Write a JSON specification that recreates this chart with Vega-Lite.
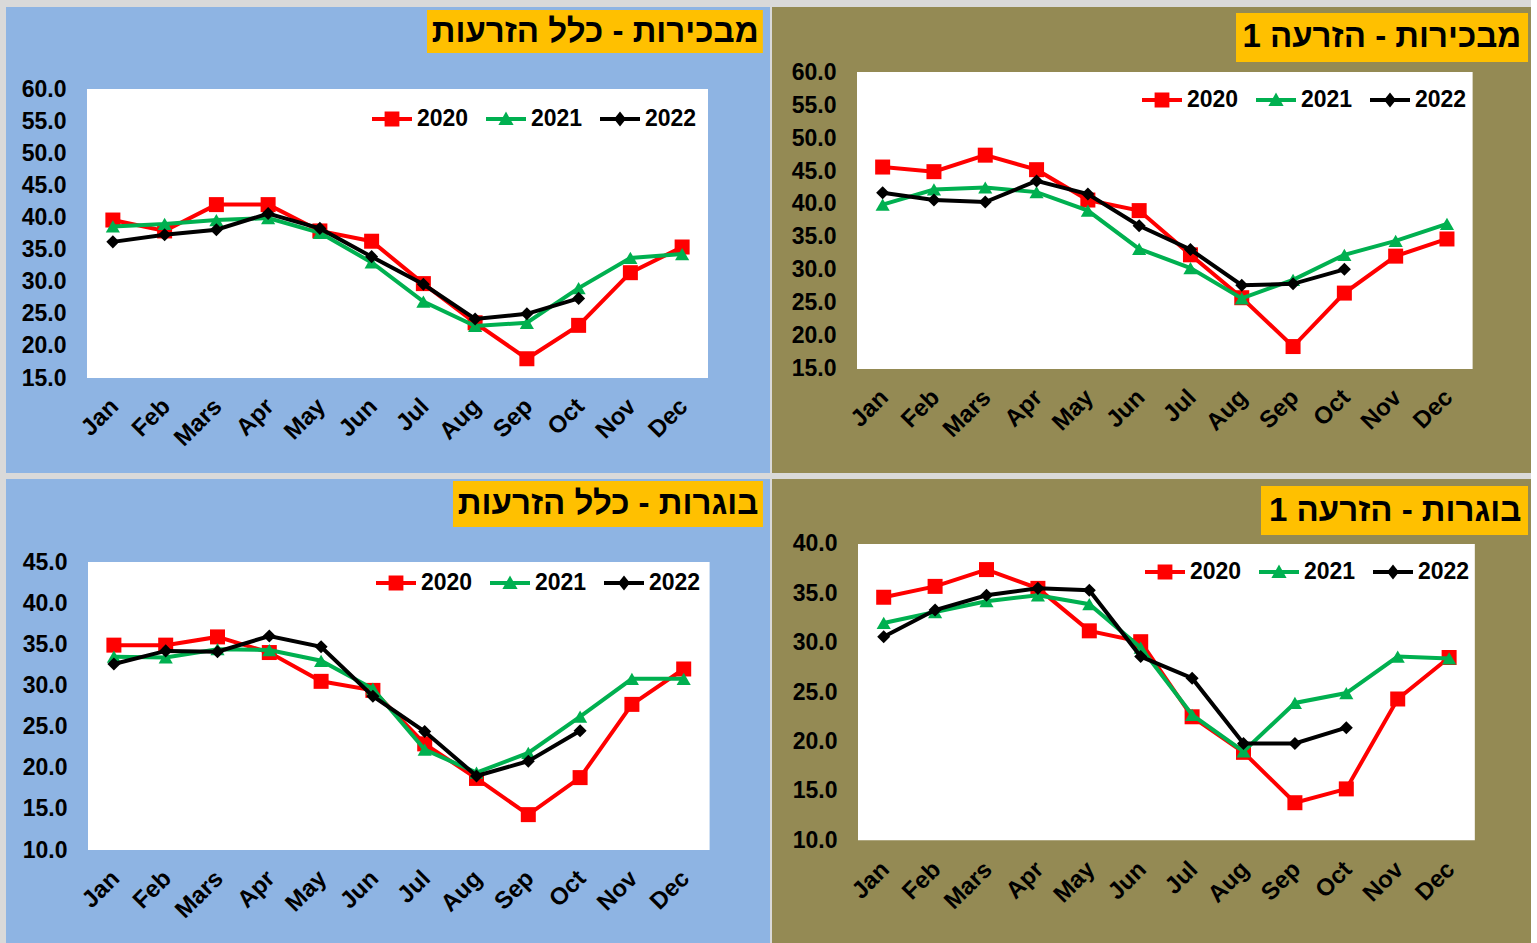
{
  "$schema": "https://vega.github.io/schema/vega-lite/v6.json",
  "background": "#D9D9D9",
  "padding": {"left": 6, "top": 7, "right": 0, "bottom": 0},
  "spacing": 6,
  "resolve": {"scale": {"fill": "independent", "shape": "independent"}, "legend": {"fill": "independent", "shape": "independent"}},
  "config": {
    "view": {"stroke": null},
    "font": "Liberation Sans",
    "axis": {"labelFont": "Liberation Sans", "labelFontWeight": "bold", "labelFontSize": 23, "labelColor": "#000000", "domain": false, "ticks": false, "grid": false, "labelOverlap": false, "labelFlush": false},
    "axisX": {"labelFontSize": 24, "labelOffset": -7},
    "legend": {"orient": "none", "direction": "horizontal", "columns": 3, "symbolSize": 1600, "labelFont": "Liberation Sans", "labelFontWeight": "bold", "labelFontSize": 23, "labelColor": "#000000", "labelOffset": 5, "columnPadding": 17, "padding": 0, "symbolStrokeWidth": 0, "symbolOpacity": 1, "labelLimit": 0}
  },
  "datasets": {
    "p1": [
      {"m":1,"year":"2020","v":39.6},{"m":2,"year":"2020","v":37.9},{"m":3,"year":"2020","v":42.0},{"m":4,"year":"2020","v":42.0},{"m":5,"year":"2020","v":37.9},{"m":6,"year":"2020","v":36.3},{"m":7,"year":"2020","v":29.7},{"m":8,"year":"2020","v":23.6},{"m":9,"year":"2020","v":18.0},{"m":10,"year":"2020","v":23.2},{"m":11,"year":"2020","v":31.4},{"m":12,"year":"2020","v":35.4},
      {"m":1,"year":"2021","v":38.6},{"m":2,"year":"2021","v":39.0},{"m":3,"year":"2021","v":39.6},{"m":4,"year":"2021","v":39.9},{"m":5,"year":"2021","v":37.6},{"m":6,"year":"2021","v":33.0},{"m":7,"year":"2021","v":26.9},{"m":8,"year":"2021","v":23.1},{"m":9,"year":"2021","v":23.6},{"m":10,"year":"2021","v":29.0},{"m":11,"year":"2021","v":33.7},{"m":12,"year":"2021","v":34.3},
      {"m":1,"year":"2022","v":36.2},{"m":2,"year":"2022","v":37.3},{"m":3,"year":"2022","v":38.1},{"m":4,"year":"2022","v":40.6},{"m":5,"year":"2022","v":38.3},{"m":6,"year":"2022","v":33.9},{"m":7,"year":"2022","v":29.6},{"m":8,"year":"2022","v":24.2},{"m":9,"year":"2022","v":25.0},{"m":10,"year":"2022","v":27.4}
    ],
    "p2": [
      {"m":1,"year":"2020","v":45.6},{"m":2,"year":"2020","v":44.9},{"m":3,"year":"2020","v":47.4},{"m":4,"year":"2020","v":45.2},{"m":5,"year":"2020","v":40.6},{"m":6,"year":"2020","v":39.0},{"m":7,"year":"2020","v":32.3},{"m":8,"year":"2020","v":25.8},{"m":9,"year":"2020","v":18.4},{"m":10,"year":"2020","v":26.5},{"m":11,"year":"2020","v":32.1},{"m":12,"year":"2020","v":34.7},
      {"m":1,"year":"2021","v":39.9},{"m":2,"year":"2021","v":42.2},{"m":3,"year":"2021","v":42.5},{"m":4,"year":"2021","v":41.8},{"m":5,"year":"2021","v":39.0},{"m":6,"year":"2021","v":33.2},{"m":7,"year":"2021","v":30.3},{"m":8,"year":"2021","v":25.7},{"m":9,"year":"2021","v":28.5},{"m":10,"year":"2021","v":32.3},{"m":11,"year":"2021","v":34.4},{"m":12,"year":"2021","v":37.0},
      {"m":1,"year":"2022","v":41.7},{"m":2,"year":"2022","v":40.6},{"m":3,"year":"2022","v":40.3},{"m":4,"year":"2022","v":43.5},{"m":5,"year":"2022","v":41.5},{"m":6,"year":"2022","v":36.7},{"m":7,"year":"2022","v":33.1},{"m":8,"year":"2022","v":27.7},{"m":9,"year":"2022","v":27.9},{"m":10,"year":"2022","v":30.1}
    ],
    "p3": [
      {"m":1,"year":"2020","v":34.9},{"m":2,"year":"2020","v":34.9},{"m":3,"year":"2020","v":35.9},{"m":4,"year":"2020","v":34.0},{"m":5,"year":"2020","v":30.5},{"m":6,"year":"2020","v":29.4},{"m":7,"year":"2020","v":22.9},{"m":8,"year":"2020","v":18.7},{"m":9,"year":"2020","v":14.3},{"m":10,"year":"2020","v":18.8},{"m":11,"year":"2020","v":27.7},{"m":12,"year":"2020","v":32.0},
      {"m":1,"year":"2021","v":33.5},{"m":2,"year":"2021","v":33.4},{"m":3,"year":"2021","v":34.4},{"m":4,"year":"2021","v":34.3},{"m":5,"year":"2021","v":33.0},{"m":6,"year":"2021","v":29.6},{"m":7,"year":"2021","v":22.2},{"m":8,"year":"2021","v":19.4},{"m":9,"year":"2021","v":21.8},{"m":10,"year":"2021","v":26.2},{"m":11,"year":"2021","v":30.8},{"m":12,"year":"2021","v":30.8},
      {"m":1,"year":"2022","v":32.6},{"m":2,"year":"2022","v":34.2},{"m":3,"year":"2022","v":34.1},{"m":4,"year":"2022","v":36.0},{"m":5,"year":"2022","v":34.7},{"m":6,"year":"2022","v":28.7},{"m":7,"year":"2022","v":24.4},{"m":8,"year":"2022","v":19.0},{"m":9,"year":"2022","v":20.8},{"m":10,"year":"2022","v":24.5}
    ],
    "p4": [
      {"m":1,"year":"2020","v":34.6},{"m":2,"year":"2020","v":35.7},{"m":3,"year":"2020","v":37.4},{"m":4,"year":"2020","v":35.5},{"m":5,"year":"2020","v":31.2},{"m":6,"year":"2020","v":30.1},{"m":7,"year":"2020","v":22.5},{"m":8,"year":"2020","v":18.9},{"m":9,"year":"2020","v":13.8},{"m":10,"year":"2020","v":15.2},{"m":11,"year":"2020","v":24.3},{"m":12,"year":"2020","v":28.5},
      {"m":1,"year":"2021","v":32.0},{"m":2,"year":"2021","v":33.1},{"m":3,"year":"2021","v":34.2},{"m":4,"year":"2021","v":34.8},{"m":5,"year":"2021","v":33.9},{"m":6,"year":"2021","v":29.5},{"m":7,"year":"2021","v":22.7},{"m":8,"year":"2021","v":19.0},{"m":9,"year":"2021","v":23.9},{"m":10,"year":"2021","v":24.9},{"m":11,"year":"2021","v":28.6},{"m":12,"year":"2021","v":28.4},
      {"m":1,"year":"2022","v":30.6},{"m":2,"year":"2022","v":33.3},{"m":3,"year":"2022","v":34.8},{"m":4,"year":"2022","v":35.5},{"m":5,"year":"2022","v":35.3},{"m":6,"year":"2022","v":28.6},{"m":7,"year":"2022","v":26.4},{"m":8,"year":"2022","v":19.8},{"m":9,"year":"2022","v":19.8},{"m":10,"year":"2022","v":21.4}
    ]
  },
  "vconcat": [
    {
      "spacing": 2,
      "resolve": {"scale": {"fill": "independent", "shape": "independent"}, "legend": {"fill": "independent", "shape": "independent"}},
      "hconcat": [
        {
          "width": 764, "height": 466,
          "view": {"fill": "#8EB4E3", "stroke": null},
          "data": {"name": "p1"},
          "layer": [
            {"transform": [{"filter": "datum.m == 1 && datum.year == '2020'"}], "mark": {"type": "rect", "fill": "#FFFFFF"},
             "encoding": {"x": {"datum": 0.5, "type": "quantitative", "scale": {"domain": [-1.065, 13.698], "nice": false, "zero": false},
                  "axis": {"values": [1,2,3,4,5,6,7,8,9,10,11,12], "labelExpr": "['Jan','Feb','Mars','Apr','May','Jun','Jul','Aug','Sep','Oct','Nov','Dec'][datum.value-1]", "labelAngle": -45, "offset": -95, "labelPadding": 16, "title": null}},
                  "x2": {"datum": 12.5},
                  "y": {"datum": 15, "type": "quantitative", "scale": {"domain": [0.21, 72.77], "nice": false, "zero": false},
                  "axis": {"values": [15,20,25,30,35,40,45,50,55,60], "format": ".1f", "offset": -60, "labelPadding": 0, "title": null}},
                  "y2": {"datum": 60}}},
            {"transform": [{"filter": "datum.m == 1 && datum.year == '2020'"}], "mark": {"type": "rect", "fill": "#FFC000"},
             "encoding": {"x": {"datum": 7.07, "type": "quantitative"}, "x2": {"datum": 13.56}, "y": {"datum": 65.6, "type": "quantitative"}, "y2": {"datum": 72.3}}},
            {"transform": [{"filter": "datum.m == 1 && datum.year == '2020'"}], "mark": {"type": "text", "font": "Liberation Sans", "fontWeight": "bold", "fontSize": 33, "color": "#000000", "align": "center", "baseline": "middle", "text": "מבכירות - כלל הזרעות"},
             "encoding": {"x": {"datum": 10.32, "type": "quantitative"}, "y": {"datum": 68.95, "type": "quantitative"}}},
            {"transform": [{"filter": "datum.year == '2020'"}], "mark": {"type": "line", "color": "#FF0000", "strokeWidth": 4, "point": {"shape": "square", "size": 225, "filled": true, "color": "#FF0000", "opacity": 1}},
             "encoding": {"x": {"field": "m", "type": "quantitative"}, "y": {"field": "v", "type": "quantitative"}}},
            {"transform": [{"filter": "datum.year == '2021'"}], "mark": {"type": "line", "color": "#00B050", "strokeWidth": 4, "point": {"shape": "triangle-up", "size": 200, "filled": true, "color": "#00B050", "opacity": 1}},
             "encoding": {"x": {"field": "m", "type": "quantitative"}, "y": {"field": "v", "type": "quantitative"}}},
            {"transform": [{"filter": "datum.year == '2022'"}], "mark": {"type": "line", "color": "#000000", "strokeWidth": 4, "point": {"shape": "diamond", "size": 170, "filled": true, "color": "#000000", "opacity": 1}},
             "encoding": {"x": {"field": "m", "type": "quantitative"}, "y": {"field": "v", "type": "quantitative"}}},
            {"transform": [{"filter": "false"}], "mark": {"type": "point", "filled": true, "opacity": 1},
             "encoding": {
               "fill": {"field": "year", "type": "nominal", "title": null, "scale": {"domain": ["2020","2021","2022"], "range": ["#FF0000","#00B050","#000000"]}, "legend": {"legendX": 366, "legendY": 92}},
               "shape": {"field": "year", "type": "nominal", "title": null, "scale": {"domain": ["2020","2021","2022"], "range": ["M-1,-0.1H1V0.1H-1Z M-0.37,-0.37H0.37V0.37H-0.37Z", "M-1,-0.1H1V0.1H-1Z M0,-0.37L0.38,0.3H-0.38Z", "M-1,-0.1H1V0.1H-1Z M0,-0.37L0.3,0L0,0.37L-0.3,0Z"]}, "legend": {"legendX": 366, "legendY": 92}}
             }}
          ]
        },
        {
          "width": 759, "height": 466,
          "view": {"fill": "#948A54", "stroke": null},
          "data": {"name": "p2"},
          "layer": [
            {"transform": [{"filter": "datum.m == 1 && datum.year == '2020'"}], "mark": {"type": "rect", "fill": "#FFFFFF"},
             "encoding": {"x": {"datum": 0.5, "type": "quantitative", "scale": {"domain": [-1.157, 13.638], "nice": false, "zero": false},
                  "axis": {"values": [1,2,3,4,5,6,7,8,9,10,11,12], "labelExpr": "['Jan','Feb','Mars','Apr','May','Jun','Jul','Aug','Sep','Oct','Nov','Dec'][datum.value-1]", "labelAngle": -45, "offset": -104, "labelPadding": 16, "title": null}},
                  "x2": {"datum": 12.5},
                  "y": {"datum": 15, "type": "quantitative", "scale": {"domain": [-0.76, 69.85], "nice": false, "zero": false},
                  "axis": {"values": [15,20,25,30,35,40,45,50,55,60], "format": ".1f", "offset": -64, "labelPadding": 0, "title": null}},
                  "y2": {"datum": 60}}},
            {"transform": [{"filter": "datum.m == 1 && datum.year == '2020'"}], "mark": {"type": "rect", "fill": "#FFC000"},
             "encoding": {"x": {"datum": 7.888, "type": "quantitative"}, "x2": {"datum": 13.58}, "y": {"datum": 61.52, "type": "quantitative"}, "y2": {"datum": 68.94}}},
            {"transform": [{"filter": "datum.m == 1 && datum.year == '2020'"}], "mark": {"type": "text", "font": "Liberation Sans", "fontWeight": "bold", "fontSize": 33, "color": "#000000", "align": "center", "baseline": "middle", "text": "מבכירות - הזרעה 1"},
             "encoding": {"x": {"datum": 10.73, "type": "quantitative"}, "y": {"datum": 65.23, "type": "quantitative"}}},
            {"transform": [{"filter": "datum.year == '2020'"}], "mark": {"type": "line", "color": "#FF0000", "strokeWidth": 4, "point": {"shape": "square", "size": 225, "filled": true, "color": "#FF0000", "opacity": 1}},
             "encoding": {"x": {"field": "m", "type": "quantitative"}, "y": {"field": "v", "type": "quantitative"}}},
            {"transform": [{"filter": "datum.year == '2021'"}], "mark": {"type": "line", "color": "#00B050", "strokeWidth": 4, "point": {"shape": "triangle-up", "size": 200, "filled": true, "color": "#00B050", "opacity": 1}},
             "encoding": {"x": {"field": "m", "type": "quantitative"}, "y": {"field": "v", "type": "quantitative"}}},
            {"transform": [{"filter": "datum.year == '2022'"}], "mark": {"type": "line", "color": "#000000", "strokeWidth": 4, "point": {"shape": "diamond", "size": 170, "filled": true, "color": "#000000", "opacity": 1}},
             "encoding": {"x": {"field": "m", "type": "quantitative"}, "y": {"field": "v", "type": "quantitative"}}},
            {"transform": [{"filter": "false"}], "mark": {"type": "point", "filled": true, "opacity": 1},
             "encoding": {
               "fill": {"field": "year", "type": "nominal", "title": null, "scale": {"domain": ["2020","2021","2022"], "range": ["#FF0000","#00B050","#000000"]}, "legend": {"legendX": 370, "legendY": 73}},
               "shape": {"field": "year", "type": "nominal", "title": null, "scale": {"domain": ["2020","2021","2022"], "range": ["M-1,-0.1H1V0.1H-1Z M-0.37,-0.37H0.37V0.37H-0.37Z", "M-1,-0.1H1V0.1H-1Z M0,-0.37L0.38,0.3H-0.38Z", "M-1,-0.1H1V0.1H-1Z M0,-0.37L0.3,0L0,0.37L-0.3,0Z"]}, "legend": {"legendX": 370, "legendY": 73}}
             }}
          ]
        }
      ]
    },
    {
      "spacing": 2,
      "resolve": {"scale": {"fill": "independent", "shape": "independent"}, "legend": {"fill": "independent", "shape": "independent"}},
      "hconcat": [
        {
          "width": 764, "height": 464,
          "view": {"fill": "#8EB4E3", "stroke": null},
          "data": {"name": "p3"},
          "layer": [
            {"transform": [{"filter": "datum.m == 1 && datum.year == '2020'"}], "mark": {"type": "rect", "fill": "#FFFFFF"},
             "encoding": {"x": {"datum": 0.5, "type": "quantitative", "scale": {"domain": [-1.083, 13.666], "nice": false, "zero": false},
                  "axis": {"values": [1,2,3,4,5,6,7,8,9,10,11,12], "labelExpr": "['Jan','Feb','Mars','Apr','May','Jun','Jul','Aug','Sep','Oct','Nov','Dec'][datum.value-1]", "labelAngle": -45, "offset": -93, "labelPadding": 16, "title": null}},
                  "x2": {"datum": 12.5},
                  "y": {"datum": 10, "type": "quantitative", "scale": {"domain": [-1.3, 55.09], "nice": false, "zero": false},
                  "axis": {"values": [10,15,20,25,30,35,40,45], "format": ".1f", "offset": -61, "labelPadding": 0, "title": null}},
                  "y2": {"datum": 45}}},
            {"transform": [{"filter": "datum.m == 1 && datum.year == '2020'"}], "mark": {"type": "rect", "fill": "#FFC000"},
             "encoding": {"x": {"datum": 7.546, "type": "quantitative"}, "x2": {"datum": 13.53}, "y": {"datum": 49.25, "type": "quantitative"}, "y2": {"datum": 54.84}}},
            {"transform": [{"filter": "datum.m == 1 && datum.year == '2020'"}], "mark": {"type": "text", "font": "Liberation Sans", "fontWeight": "bold", "fontSize": 33, "color": "#000000", "align": "center", "baseline": "middle", "text": "בוגרות - כלל הזרעות"},
             "encoding": {"x": {"datum": 10.54, "type": "quantitative"}, "y": {"datum": 52.05, "type": "quantitative"}}},
            {"transform": [{"filter": "datum.year == '2020'"}], "mark": {"type": "line", "color": "#FF0000", "strokeWidth": 4, "point": {"shape": "square", "size": 225, "filled": true, "color": "#FF0000", "opacity": 1}},
             "encoding": {"x": {"field": "m", "type": "quantitative"}, "y": {"field": "v", "type": "quantitative"}}},
            {"transform": [{"filter": "datum.year == '2021'"}], "mark": {"type": "line", "color": "#00B050", "strokeWidth": 4, "point": {"shape": "triangle-up", "size": 200, "filled": true, "color": "#00B050", "opacity": 1}},
             "encoding": {"x": {"field": "m", "type": "quantitative"}, "y": {"field": "v", "type": "quantitative"}}},
            {"transform": [{"filter": "datum.year == '2022'"}], "mark": {"type": "line", "color": "#000000", "strokeWidth": 4, "point": {"shape": "diamond", "size": 170, "filled": true, "color": "#000000", "opacity": 1}},
             "encoding": {"x": {"field": "m", "type": "quantitative"}, "y": {"field": "v", "type": "quantitative"}}},
            {"transform": [{"filter": "false"}], "mark": {"type": "point", "filled": true, "opacity": 1},
             "encoding": {
               "fill": {"field": "year", "type": "nominal", "title": null, "scale": {"domain": ["2020","2021","2022"], "range": ["#FF0000","#00B050","#000000"]}, "legend": {"legendX": 370, "legendY": 84}},
               "shape": {"field": "year", "type": "nominal", "title": null, "scale": {"domain": ["2020","2021","2022"], "range": ["M-1,-0.1H1V0.1H-1Z M-0.37,-0.37H0.37V0.37H-0.37Z", "M-1,-0.1H1V0.1H-1Z M0,-0.37L0.38,0.3H-0.38Z", "M-1,-0.1H1V0.1H-1Z M0,-0.37L0.3,0L0,0.37L-0.3,0Z"]}, "legend": {"legendX": 370, "legendY": 84}}
             }}
          ]
        },
        {
          "width": 759, "height": 464,
          "view": {"fill": "#948A54", "stroke": null},
          "data": {"name": "p4"},
          "layer": [
            {"transform": [{"filter": "datum.m == 1 && datum.year == '2020'"}], "mark": {"type": "rect", "fill": "#FFFFFF"},
             "encoding": {"x": {"datum": 0.5, "type": "quantitative", "scale": {"domain": [-1.173, 13.593], "nice": false, "zero": false},
                  "axis": {"values": [1,2,3,4,5,6,7,8,9,10,11,12], "labelExpr": "['Jan','Feb','Mars','Apr','May','Jun','Jul','Aug','Sep','Oct','Nov','Dec'][datum.value-1]", "labelAngle": -45, "offset": -102, "labelPadding": 16, "title": null}},
                  "x2": {"datum": 12.5},
                  "y": {"datum": 10, "type": "quantitative", "scale": {"domain": [-0.4, 46.57], "nice": false, "zero": false},
                  "axis": {"values": [10,15,20,25,30,35,40], "format": ".1f", "offset": -65, "labelPadding": 0, "title": null}},
                  "y2": {"datum": 40}}},
            {"transform": [{"filter": "datum.m == 1 && datum.year == '2020'"}], "mark": {"type": "rect", "fill": "#FFC000"},
             "encoding": {"x": {"datum": 8.34, "type": "quantitative"}, "x2": {"datum": 13.535}, "y": {"datum": 40.91, "type": "quantitative"}, "y2": {"datum": 45.86}}},
            {"transform": [{"filter": "datum.m == 1 && datum.year == '2020'"}], "mark": {"type": "text", "font": "Liberation Sans", "fontWeight": "bold", "fontSize": 33, "color": "#000000", "align": "center", "baseline": "middle", "text": "בוגרות - הזרעה 1"},
             "encoding": {"x": {"datum": 10.95, "type": "quantitative"}, "y": {"datum": 43.38, "type": "quantitative"}}},
            {"transform": [{"filter": "datum.year == '2020'"}], "mark": {"type": "line", "color": "#FF0000", "strokeWidth": 4, "point": {"shape": "square", "size": 225, "filled": true, "color": "#FF0000", "opacity": 1}},
             "encoding": {"x": {"field": "m", "type": "quantitative"}, "y": {"field": "v", "type": "quantitative"}}},
            {"transform": [{"filter": "datum.year == '2021'"}], "mark": {"type": "line", "color": "#00B050", "strokeWidth": 4, "point": {"shape": "triangle-up", "size": 200, "filled": true, "color": "#00B050", "opacity": 1}},
             "encoding": {"x": {"field": "m", "type": "quantitative"}, "y": {"field": "v", "type": "quantitative"}}},
            {"transform": [{"filter": "datum.year == '2022'"}], "mark": {"type": "line", "color": "#000000", "strokeWidth": 4, "point": {"shape": "diamond", "size": 170, "filled": true, "color": "#000000", "opacity": 1}},
             "encoding": {"x": {"field": "m", "type": "quantitative"}, "y": {"field": "v", "type": "quantitative"}}},
            {"transform": [{"filter": "false"}], "mark": {"type": "point", "filled": true, "opacity": 1},
             "encoding": {
               "fill": {"field": "year", "type": "nominal", "title": null, "scale": {"domain": ["2020","2021","2022"], "range": ["#FF0000","#00B050","#000000"]}, "legend": {"legendX": 373, "legendY": 73}},
               "shape": {"field": "year", "type": "nominal", "title": null, "scale": {"domain": ["2020","2021","2022"], "range": ["M-1,-0.1H1V0.1H-1Z M-0.37,-0.37H0.37V0.37H-0.37Z", "M-1,-0.1H1V0.1H-1Z M0,-0.37L0.38,0.3H-0.38Z", "M-1,-0.1H1V0.1H-1Z M0,-0.37L0.3,0L0,0.37L-0.3,0Z"]}, "legend": {"legendX": 373, "legendY": 73}}
             }}
          ]
        }
      ]
    }
  ]
}
